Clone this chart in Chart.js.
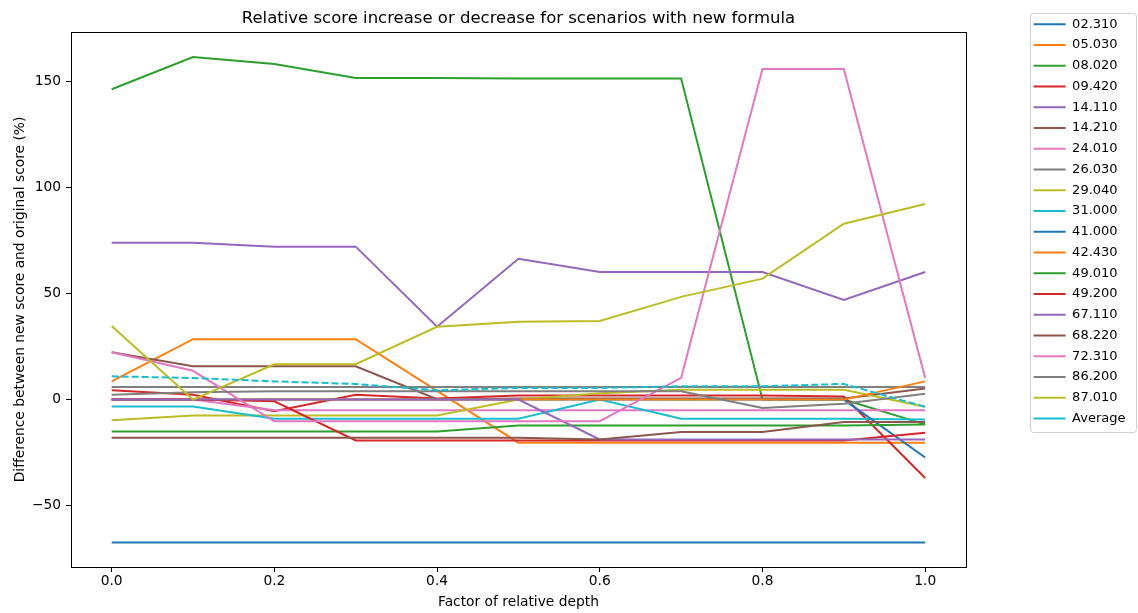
<!DOCTYPE html>
<html>
<head>
<meta charset="utf-8">
<script src="https://cdn.jsdelivr.net/npm/chart.js@4"></script>
<style>
  body { margin: 0; background: #fff; }
  canvas { display: block; }
</style>
</head>
<body>
<canvas id="chart" width="1138" height="613"></canvas>
<script>
// x values: factor of relative depth
const depth = [0, 0.1, 0.2, 0.3, 0.4, 0.5, 0.6, 0.7, 0.8, 0.9, 1.0];
const xTicks = [0, 0.2, 0.4, 0.6, 0.8, 1.0];
const yTicks = [-50, 0, 50, 100, 150];

// relative score change (%) per scenario
const s02310 = [-67.4, -67.4, -67.4, -67.4, -67.4, -67.4, -67.4, -67.4, -67.4, -67.4, -67.4];
const s05030 = [8.6, 28.5, 28.5, 28.5, 4.1, -20.3, -20.3, -20.3, -20.3, -20.3, -20.3];
const s08020 = [146.5, 161.7, 158.4, 151.8, 151.8, 151.5, 151.5, 151.5, 0, 0, -11.7];
const s09420 = [4.4, 2.3, -5.5, 2.3, 0.5, 1.9, 1.9, 1.9, 1.9, 1.5, -37];
const s14110 = [74, 74, 72.2, 72.2, 34.4, 66.5, 60.2, 60.2, 60.2, 47, 60.2];
const s14210 = [22.4, 15.7, 15.7, 15.7, 0.2, 0.5, 0.5, 0.5, 0.5, 0.5, 5.2];
const s24010 = [0, 0, -5, -5, -5, -5, -5, -5, -5, -5, -5];
const s26030 = [6, 6, 6, 6, 6, 6, 6, 6, 6, 6, 6];
const s29040 = [-9.7, -7.5, -7.5, -7.5, -7.5, 0, 3, 4.7, 4.7, 4.7, -3.4];
const s31000 = [-3.3, -3.3, -9, -9, -9, -9, 0, -9, -9, -9, -9.4];
const s41000 = [0, 0, 0, 0, 0, 0, 0, 0, 0, 0, -27.3];
const s42430 = [0, 0, 0, 0, 0, 0, 0, 0, 0, 0, 8.6];
const s49010 = [-15, -15, -15, -15, -15, -12.2, -12.2, -12.2, -12.2, -12.2, -11.7];
const s49200 = [0, 0, -0.8, -19.3, -19.3, -19.3, -19.3, -19.3, -19.3, -19.3, -15.6];
const s67110 = [0, 0, 0, 0, 0, 0, -18.8, -18.8, -18.8, -18.8, -18.8];
const s68220 = [-18, -18, -18, -18, -18, -18, -18.8, -15.3, -15.3, -10.6, -10.6];
const s72310 = [22.4, 13.6, -10.2, -10.2, -10.2, -10.2, -10.2, 10.3, 156, 156, 10.2];
const s86200 = [2.3, 3.5, 3.9, 3.9, 3.9, 3.9, 3.9, 3.9, -3.9, -1.9, 2.8];
const s87010 = [34.7, 0, 16.7, 16.7, 34.4, 36.8, 37.1, 48.5, 57.1, 83, 92.3];
const average = [11, 10.2, 8.6, 7.4, 4.4, 5.5, 5.5, 6.3, 6.3, 7.4, -3.4];

const names = ["02.310", "05.030", "08.020", "09.420", "14.110", "14.210", "24.010",
  "26.030", "29.040", "31.000", "41.000", "42.430", "49.010", "49.200", "67.110",
  "68.220", "72.310", "86.200", "87.010"];
const series = [s02310, s05030, s08020, s09420, s14110, s14210, s24010, s26030,
  s29040, s31000, s41000, s42430, s49010, s49200, s67110, s68220, s72310, s86200, s87010];

const tab10 = ["#1f77b4", "#ff7f0e", "#2ca02c", "#d62728", "#9467bd",
  "#8c564b", "#e377c2", "#7f7f7f", "#bcbd22", "#17becf"];

const font = "'DejaVu Sans', sans-serif";
const toPoints = (vals) => depth.map((x, i) => ({ x: x, y: vals[i] }));

let datasets = series.map((vals, i) => ({
  label: names[i],
  data: toPoints(vals),
  borderColor: tab10[i % 10],
  backgroundColor: tab10[i % 10],
  borderWidth: 2,
  pointRadius: 0,
  order: 100 - i,
}));
datasets.push({
  label: "Average",
  data: toPoints(average),
  borderColor: tab10[9],
  backgroundColor: tab10[9],
  borderWidth: 2,
  borderDash: [7, 3],
  pointRadius: 0,
  order: 1,
});

// box around the plot + legend frame like matplotlib
const frame = {
  id: "frame",
  afterDatasetsDraw(chart) {
    const { ctx, chartArea: a } = chart;
    ctx.save();
    ctx.strokeStyle = "#000";
    ctx.lineWidth = 1;
    ctx.strokeRect(Math.round(a.left) + 0.5, Math.round(a.top) + 0.5,
      Math.round(a.right - a.left), Math.round(a.bottom - a.top));
    ctx.restore();
  },
  afterDraw(chart) {
    const boxes = chart.legend.legendHitBoxes;
    if (!boxes || !boxes.length) return;
    const first = boxes[0];
    const last = boxes[boxes.length - 1];
    const left = first.left - 3.5;
    const top = first.top + first.height / 2 - 11;
    const bottom = last.top + last.height / 2 + 14;
    const right = chart.width - 1.5;
    const ctx = chart.ctx;
    ctx.save();
    ctx.strokeStyle = "#d0d0d0";
    ctx.lineWidth = 1;
    ctx.beginPath();
    ctx.roundRect(Math.round(left) + 0.5, Math.round(top) + 0.5,
      Math.round(right - left), Math.round(bottom - top), 3);
    ctx.stroke();
    ctx.restore();
  },
};

const tickFmtY = (v) => (v < 0 ? "\u2212" + Math.abs(v) : String(v));

new Chart(document.getElementById("chart").getContext("2d"), {
  type: "line",
  data: { datasets: datasets },
  plugins: [frame],
  options: {
    responsive: false,
    animation: false,
    layout: { padding: { top: 10, right: 2.5, bottom: 0, left: 0 } },
    plugins: {
      title: {
        display: true,
        fullSize: false,
        text: "Relative score increase or decrease for scenarios with new formula",
        color: "#000",
        font: { family: font, size: 16.5, weight: "normal", lineHeight: 1 },
        padding: { top: 0, bottom: 5.5 },
      },
      legend: {
        position: "right",
        align: "start",
        labels: {
          color: "#000",
          font: { family: font, size: 13 },
          usePointStyle: true,
          pointStyle: "line",
          pointStyleWidth: 32,
          padding: 7.75,
          sort: (a, b) => a.datasetIndex - b.datasetIndex,
        },
      },
      tooltip: { enabled: false },
    },
    scales: {
      x: {
        type: "linear",
        min: -0.05,
        max: 1.05,
        afterBuildTicks: (scale) => { scale.ticks = xTicks.map((v) => ({ value: v })); },
        afterFit: (scale) => { scale.height = 46; },
        border: { display: false },
        grid: { drawOnChartArea: false, drawTicks: true, tickLength: 5, color: "#000" },
        ticks: {
          color: "#000",
          font: { family: font, size: 13.8 },
          padding: 1,
          maxRotation: 0,
          callback: (v) => v.toFixed(1),
        },
        title: {
          display: true,
          text: "Factor of relative depth",
          color: "#000",
          font: { family: font, size: 13.8 },
          padding: { top: 2, bottom: 2 },
        },
      },
      y: {
        type: "linear",
        min: -79,
        max: 173.5,
        afterBuildTicks: (scale) => { scale.ticks = yTicks.map((v) => ({ value: v })); },
        afterFit: (scale) => { scale.width = 71; },
        border: { display: false },
        grid: { drawOnChartArea: false, drawTicks: true, tickLength: 5, color: "#000" },
        ticks: {
          color: "#000",
          font: { family: font, size: 13.8 },
          padding: 5,
          callback: tickFmtY,
        },
        title: {
          display: true,
          text: "Difference between new score and original score (%)",
          color: "#000",
          font: { family: font, size: 13.8 },
          padding: 12,
        },
      },
      gap: {
        type: "linear",
        position: "right",
        display: true,
        afterFit: (scale) => { scale.width = 60; },
        border: { display: false },
        grid: { display: false },
        ticks: { display: false },
      },
    },
  },
});
</script>
</body>
</html>
